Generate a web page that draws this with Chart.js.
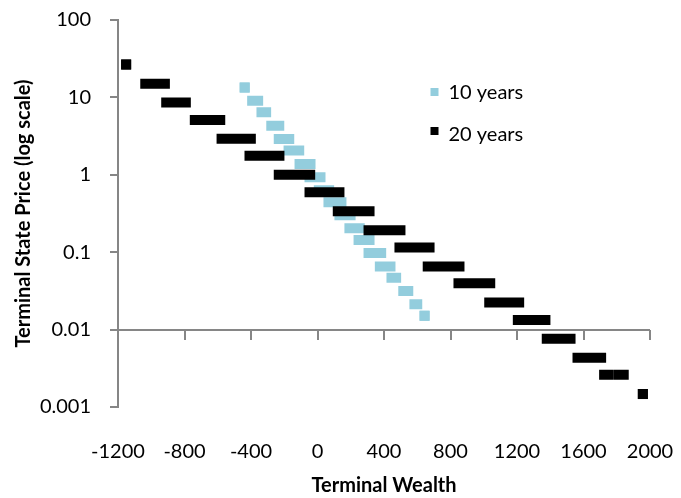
<!DOCTYPE html>
<html>
<head>
<meta charset="utf-8">
<script src="https://cdn.jsdelivr.net/npm/chart.js@4.4.1/dist/chart.umd.min.js"></script>
<style>
  html, body { margin: 0; padding: 0; background: #fff; }
</style>
</head>
<body>
<canvas id="myChart" width="681" height="498"></canvas>
<script>
// 10 years: each row is one state price level, wealth runs from lo to hi
const blueY = [13.4, 9.04, 6.42, 4.31, 2.9, 2.06, 1.38, 0.93, 0.632, 0.442, 0.3, 0.204, 0.144, 0.0977, 0.0654, 0.0467, 0.0316, 0.0212, 0.0151];
const blueLo = [-438, -393, -337, -278, -233, -174, -108, -48, 8, 66, 132, 192, 247, 307, 375, 445, 516, 583, 644];
const blueHi = [-438, -357, -309, -230, -170, -110, -42, 18, 70, 144, 199, 254, 313, 383, 439, 473, 546, 600, 644];

// 20 years
const blackY = [26.6, 15.0, 8.6, 5.1, 2.92, 1.76, 1.0, 0.594, 0.337, 0.192, 0.115, 0.0654, 0.0396, 0.0224, 0.0133, 0.0076, 0.00432, 0.00261, 0.00261, 0.00147];
const blackLo = [-1151, -1036, -910, -738, -577, -409, -233, -48, 122, 307, 493, 663, 848, 1033, 1205, 1379, 1564, 1724, 1812, 1957];
const blackHi = [-1151, -918, -792, -585, -401, -229, -44, 132, 313, 499, 674, 854, 1039, 1213, 1371, 1522, 1706, 1751, 1842, 1957];

const xTicks = [-1200, -800, -400, 0, 400, 800, 1200, 1600, 2000];
const yTicks = [0.001, 0.01, 0.1, 1, 10, 100];
const xCross = 0.01; // horizontal axis crosses the y axis here

const AXIS_GRAY = "#868686";
const FONT = "Lato";
const MARK = 10; // marker size in px

// turn levels into line pieces, a null point breaks the line between levels
function levels(ys, lo, hi) {
  const pts = [];
  ys.forEach((y, i) => {
    pts.push({ x: lo[i], y: y });
    pts.push({ x: hi[i], y: y });
    pts.push({ x: hi[i], y: null });
  });
  return pts;
}

// only levels with a single wealth value need a square point
function singleRadius(lo, hi) {
  return (c) => {
    if (c.dataIndex === undefined) return 0;
    const i = Math.floor(c.dataIndex / 3);
    return c.dataIndex % 3 === 0 && lo[i] === hi[i] ? MARK / 2 / Math.SQRT1_2 : 0;
  };
}

// horizontal axis line drawn at y = 0.01 with ticks hanging down
const crossAxis = {
  id: "crossAxis",
  beforeDatasetsDraw(chart) {
    const { ctx, chartArea, scales } = chart;
    const y = Math.round(scales.y.getPixelForValue(xCross));
    ctx.save();
    ctx.strokeStyle = AXIS_GRAY;
    ctx.lineWidth = 2;
    ctx.beginPath();
    ctx.moveTo(chartArea.left, y);
    ctx.lineTo(chartArea.right, y);
    xTicks.forEach((v) => {
      const x = Math.round(scales.x.getPixelForValue(v));
      ctx.moveTo(x, y);
      ctx.lineTo(x, y + 10);
    });
    ctx.stroke();
    ctx.restore();
  },
};

// legend sits inside the plot like the excel one
const insideLegend = {
  id: "insideLegend",
  afterDraw(chart, args, opts) {
    const ctx = chart.ctx;
    ctx.save();
    ctx.font = "20px " + FONT;
    ctx.textBaseline = "middle";
    ctx.textAlign = "left";
    chart.data.datasets.forEach((ds, i) => {
      const my = opts.markerY[i];
      ctx.fillStyle = ds.backgroundColor;
      ctx.fillRect(opts.x - 4, my - 4, 8, 8);
      ctx.fillStyle = "#000";
      ctx.fillText(ds.label, opts.x + 14, opts.textY[i]);
    });
    ctx.restore();
  },
};

const cht = document.getElementById("myChart");

const chart = new Chart(cht, {
  type: "scatter",
  data: {
    datasets: [
      {
        label: "10 years",
        data: levels(blueY, blueLo, blueHi),
        showLine: true,
        spanGaps: false,
        borderColor: "#93CDDD",
        backgroundColor: "#93CDDD",
        borderWidth: MARK,
        borderCapStyle: "square",
        pointStyle: "rect",
        pointRadius: singleRadius(blueLo, blueHi),
        pointBorderWidth: 0,
        order: 1,
      },
      {
        label: "20 years",
        data: levels(blackY, blackLo, blackHi),
        showLine: true,
        spanGaps: false,
        borderColor: "#000000",
        backgroundColor: "#000000",
        borderWidth: MARK,
        borderCapStyle: "square",
        pointStyle: "rect",
        pointRadius: singleRadius(blackLo, blackHi),
        pointBorderWidth: 0,
        order: 0,
      },
    ],
  },
  options: {
    responsive: false,
    animation: false,
    events: [],
    layout: {
      padding: { top: 20, right: 31, bottom: 0, left: 0 },
    },
    scales: {
      x: {
        type: "linear",
        position: "bottom",
        min: -1200,
        max: 2000,
        afterBuildTicks: (scale) => {
          scale.ticks = xTicks.map((v) => ({ value: v }));
        },
        afterFit: (scale) => {
          scale.height = 91;
          scale.paddingLeft = 0;
          scale.paddingRight = 0;
        },
        border: { display: false },
        grid: { display: false },
        ticks: {
          padding: 25,
          maxRotation: 0,
          color: "#000",
          font: { family: FONT, size: 20 },
          callback: (v) => String(v),
        },
        title: {
          display: true,
          text: "Terminal Wealth",
          color: "#000",
          font: { family: FONT, size: 20, weight: "bold" },
          padding: { top: 0, bottom: 0 },
        },
      },
      y: {
        type: "logarithmic",
        position: "left",
        min: 0.001,
        max: 100,
        afterBuildTicks: (scale) => {
          scale.ticks = yTicks.map((v) => ({ value: v }));
        },
        afterFit: (scale) => {
          scale.width = 118;
          scale.paddingTop = 0;
          scale.paddingBottom = 0;
        },
        border: { display: true, color: AXIS_GRAY, width: 2 },
        grid: {
          drawOnChartArea: false,
          drawTicks: true,
          tickLength: 8,
          color: AXIS_GRAY,
          lineWidth: 2,
        },
        ticks: {
          padding: 19,
          color: "#000",
          font: { family: FONT, size: 20 },
          callback: (v) => String(v),
        },
        title: {
          display: true,
          text: "Terminal State Price (log scale)",
          color: "#000",
          font: { family: FONT, size: 20, weight: "bold" },
          padding: { top: 12, bottom: 0 },
        },
      },
    },
    plugins: {
      legend: { display: false },
      tooltip: { enabled: false },
      insideLegend: {
        x: 434.5,
        markerY: [92, 131],
        textY: [93, 135],
      },
    },
  },
  plugins: [crossAxis, insideLegend],
});
</script>
</body>
</html>
